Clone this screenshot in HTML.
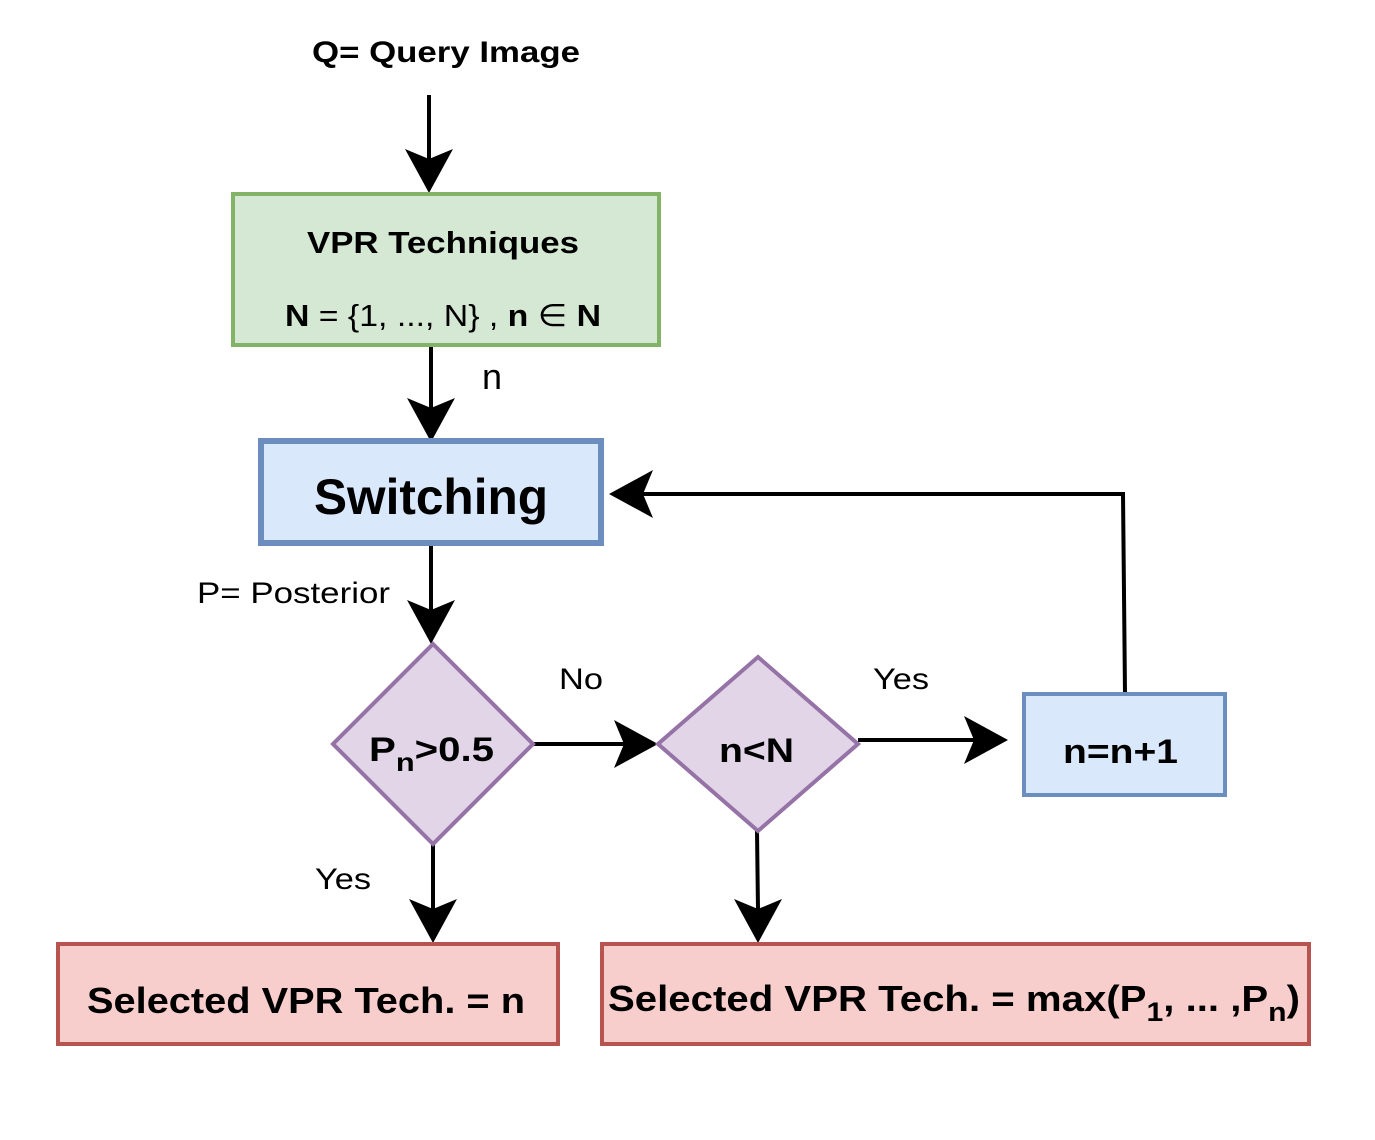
<!DOCTYPE html>
<html><head><style>body{margin:0;background:#fff}svg{display:block}text{font-family:"Liberation Sans",Arial,sans-serif}</style></head><body>
<svg width="1375" height="1140" viewBox="0 0 1375 1140" xmlns="http://www.w3.org/2000/svg">
<defs>
<path id="ah" d="M0,0 L-44,-24 L-34,0 L-44,24 Z" fill="#000"/>
</defs>
<g stroke="#000" stroke-width="4" fill="none">
<line x1="429" y1="95" x2="429" y2="160"/>
<line x1="431" y1="345" x2="431" y2="408"/>
<line x1="431" y1="544" x2="431" y2="610"/>
<line x1="533" y1="744" x2="625" y2="744"/>
<line x1="858" y1="740" x2="975" y2="740"/>
<polyline points="1125,694 1123,494 642,494"/>
<line x1="433" y1="844" x2="433" y2="910"/>
<line x1="757" y1="831" x2="758" y2="910"/>
</g>
<use href="#ah" transform="translate(429,193) rotate(90)"/>
<use href="#ah" transform="translate(431,442) rotate(90)"/>
<use href="#ah" transform="translate(431,644) rotate(90)"/>
<use href="#ah" transform="translate(658,744)"/>
<use href="#ah" transform="translate(1008,740)"/>
<use href="#ah" transform="translate(609,494) rotate(180)"/>
<use href="#ah" transform="translate(433,943) rotate(90)"/>
<use href="#ah" transform="translate(758,943) rotate(90)"/>

<rect x="233" y="194" width="426" height="151" fill="#d5e8d4" stroke="#82b366" stroke-width="4"/>
<rect x="261" y="441" width="340" height="102" fill="#dae8fc" stroke="#6c8ebf" stroke-width="6"/>
<polygon points="433,644 533,744 433,844 333,744" fill="#e1d5e7" stroke="#9673a6" stroke-width="4"/>
<polygon points="758,657 858,744 758,831 658,744" fill="#e1d5e7" stroke="#9673a6" stroke-width="4"/>
<rect x="1024" y="694" width="201" height="101" fill="#dae8fc" stroke="#6c8ebf" stroke-width="4"/>
<rect x="58" y="944" width="500" height="100" fill="#f8cecc" stroke="#b85450" stroke-width="4"/>
<rect x="602" y="944" width="707" height="100" fill="#f8cecc" stroke="#b85450" stroke-width="4"/>

<g fill="#000" lengthAdjust="spacingAndGlyphs">
<text x="312" y="62" font-size="30" font-weight="bold" textLength="268" lengthAdjust="spacingAndGlyphs">Q= Query Image</text>
<text x="307" y="253" font-size="31" font-weight="bold" textLength="272" lengthAdjust="spacingAndGlyphs">VPR Techniques</text>
<text x="285" y="326" font-size="31" textLength="316" lengthAdjust="spacingAndGlyphs"><tspan font-weight="bold">N</tspan> = {1, ..., N} , <tspan font-weight="bold">n</tspan> ∈ <tspan font-weight="bold">N</tspan></text>
<text x="482" y="389" font-size="36">n</text>
<text x="314" y="514" font-size="50" font-weight="bold" textLength="234" lengthAdjust="spacingAndGlyphs">Switching</text>
<text x="197" y="603" font-size="30" textLength="193" lengthAdjust="spacingAndGlyphs">P= Posterior</text>
<text x="369" y="761" font-size="34" font-weight="bold" textLength="125" lengthAdjust="spacingAndGlyphs">P<tspan font-size="26" dy="10">n</tspan><tspan dy="-10">&gt;0.5</tspan></text>
<text x="559" y="689" font-size="30" textLength="44" lengthAdjust="spacingAndGlyphs">No</text>
<text x="719" y="762" font-size="34" font-weight="bold" textLength="75" lengthAdjust="spacingAndGlyphs">n&lt;N</text>
<text x="873" y="689" font-size="30" textLength="56" lengthAdjust="spacingAndGlyphs">Yes</text>
<text x="1063" y="763" font-size="34" font-weight="bold" textLength="115" lengthAdjust="spacingAndGlyphs">n=n+1</text>
<text x="315" y="889" font-size="30" textLength="56" lengthAdjust="spacingAndGlyphs">Yes</text>
<text x="87" y="1013" font-size="36" font-weight="bold" textLength="438" lengthAdjust="spacingAndGlyphs">Selected VPR Tech. = n</text>
<text x="608" y="1011" font-size="36" font-weight="bold" textLength="692" lengthAdjust="spacingAndGlyphs">Selected VPR Tech. = max(P<tspan font-size="27" dy="10">1</tspan><tspan dy="-10">, ... ,P</tspan><tspan font-size="27" dy="10">n</tspan><tspan dy="-10">)</tspan></text>
</g>
</svg>
</body></html>
